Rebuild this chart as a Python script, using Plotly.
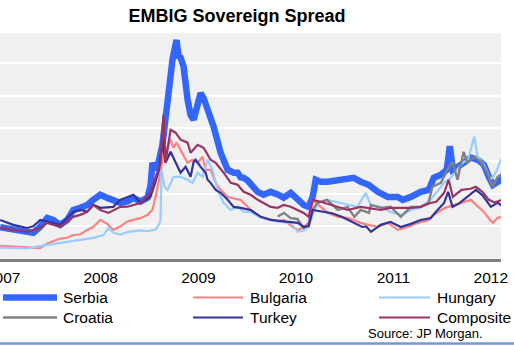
import pandas as pd
import plotly.graph_objects as go

# EMBIG sovereign spreads (bp); time given as decimal years
serbia_t = [2006.969, 2007.103, 2007.246, 2007.308, 2007.380, 2007.452, 2007.513, 2007.585, 2007.657, 2007.719,
            2007.791, 2007.862, 2007.924, 2007.996, 2008.068, 2008.129, 2008.201, 2008.273, 2008.335, 2008.407,
            2008.478, 2008.509, 2008.530, 2008.561, 2008.591, 2008.632, 2008.663, 2008.684, 2008.715, 2008.735,
            2008.776, 2008.797, 2008.817, 2008.848, 2008.889, 2008.920, 2008.951, 2008.992, 2009.023, 2009.053,
            2009.094, 2009.156, 2009.228, 2009.300, 2009.361, 2009.402, 2009.433, 2009.464, 2009.505, 2009.536,
            2009.608, 2009.669, 2009.741, 2009.813, 2009.875, 2009.947, 2010.018, 2010.080, 2010.131, 2010.172,
            2010.203, 2010.255, 2010.326, 2010.429, 2010.532, 2010.593, 2010.665, 2010.747, 2010.840, 2010.943,
            2011.045, 2011.097, 2011.179, 2011.281, 2011.363, 2011.415, 2011.487, 2011.548, 2011.579, 2011.610,
            2011.661, 2011.723, 2011.795, 2011.867, 2011.928, 2011.979, 2012.021, 2012.072, 2012.113]
serbia_v = [194, 178, 160, 160, 198, 251, 239, 209, 239, 300,
            313, 331, 362, 393, 374, 362, 343, 352, 374, 352,
            374, 444, 589, 546, 589, 700, 870, 976, 1100, 1221,
            1340, 1240, 1233, 1178, 976, 880, 853, 950, 1015, 985,
            914, 810, 650, 546, 528, 528, 500, 497, 480, 460,
            411, 393, 411, 395, 375, 405, 362, 331, 319, 380,
            485, 473, 473, 485, 497, 497, 473, 454, 411, 380,
            380, 362, 380, 411, 423, 497, 515, 546, 690, 546,
            564, 589, 620, 607, 577, 503, 454, 473, 497]

bulgaria_t = [2006.969, 2007.103, 2007.246, 2007.380, 2007.452, 2007.585, 2007.657, 2007.719, 2007.791, 2007.862,
              2007.924, 2007.996, 2008.068, 2008.129, 2008.201, 2008.273, 2008.335, 2008.407, 2008.478, 2008.530,
              2008.561, 2008.612, 2008.643, 2008.684, 2008.715, 2008.745, 2008.776, 2008.817, 2008.848, 2008.889,
              2008.940, 2008.992, 2009.043, 2009.074, 2009.125, 2009.177, 2009.228, 2009.300, 2009.361, 2009.433,
              2009.505, 2009.536, 2009.639, 2009.741, 2009.813, 2009.875, 2009.947, 2010.018, 2010.080, 2010.131,
              2010.172, 2010.255, 2010.326, 2010.429, 2010.532, 2010.665, 2010.747, 2010.840, 2010.943, 2011.045,
              2011.150, 2011.250, 2011.363, 2011.415, 2011.530, 2011.620, 2011.720, 2011.795, 2011.850, 2011.928,
              2011.990, 2012.021, 2012.070, 2012.113]
bulgaria_v = [80, 75, 70, 67, 95, 125, 130, 147, 150, 178,
              196, 239, 215, 178, 200, 230, 239, 250, 270, 300,
              380, 528, 650, 687, 730, 681, 712, 669, 640, 589,
              607, 589, 626, 546, 546, 466, 423, 380, 370, 362,
              320, 300, 258, 239, 230, 239, 205, 178, 196, 221,
              362, 319, 282, 258, 252, 221, 209, 196, 221, 178,
              196, 221, 239, 270, 313, 331, 350, 362, 331, 288,
              240, 221, 252, 258]

hungary_t = [2006.969, 2007.103, 2007.246, 2007.452, 2007.657, 2007.791, 2007.924, 2008.030, 2008.080, 2008.129,
             2008.201, 2008.273, 2008.335, 2008.407, 2008.478, 2008.561, 2008.600, 2008.612, 2008.622, 2008.653,
             2008.684, 2008.745, 2008.817, 2008.889, 2008.940, 2008.992, 2009.043, 2009.094, 2009.145, 2009.197,
             2009.259, 2009.331, 2009.402, 2009.464, 2009.536, 2009.639, 2009.741, 2009.813, 2009.947, 2010.018,
             2010.080, 2010.131, 2010.220, 2010.320, 2010.460, 2010.630, 2010.717, 2010.768, 2010.870, 2010.970,
             2011.080, 2011.180, 2011.280, 2011.380, 2011.440, 2011.520, 2011.590, 2011.660, 2011.720, 2011.762,
             2011.830, 2011.864, 2011.930, 2012.000, 2012.050, 2012.113]
hungary_v = [70, 68, 65, 86, 104, 117, 129, 147, 190, 160,
             150, 165, 170, 175, 170, 180, 215, 239, 546, 442,
             423, 503, 503, 485, 466, 528, 503, 607, 546, 423,
             343, 300, 319, 290, 288, 252, 239, 230, 221, 166,
             175, 200, 343, 362, 343, 319, 405, 330, 319, 288,
             270, 300, 313, 362, 405, 466, 497, 546, 595, 600,
             749, 626, 577, 485, 528, 620]

croatia_t = [2009.813, 2009.878, 2009.947, 2010.015, 2010.080, 2010.131, 2010.170, 2010.220, 2010.320, 2010.430,
             2010.530, 2010.600, 2010.665, 2010.750, 2010.770, 2010.870, 2010.970, 2011.076, 2011.180, 2011.280,
             2011.360, 2011.400, 2011.487, 2011.555, 2011.607, 2011.658, 2011.720, 2011.760, 2011.830, 2011.900,
             2011.966, 2012.017, 2012.070, 2012.113]
croatia_v = [260, 282, 250, 245, 190, 215, 300, 343, 362, 300,
             319, 258, 300, 282, 331, 313, 320, 258, 319, 319,
             343, 442, 466, 546, 595, 485, 656, 589, 626, 595,
             528, 442, 503, 520]

turkey_t = [2006.969, 2007.103, 2007.246, 2007.308, 2007.380, 2007.452, 2007.585, 2007.719, 2007.791, 2007.862,
            2007.924, 2007.996, 2008.129, 2008.201, 2008.335, 2008.407, 2008.509, 2008.557, 2008.597, 2008.632,
            2008.663, 2008.715, 2008.766, 2008.817, 2008.869, 2008.920, 2008.951, 2008.971, 2009.023, 2009.074,
            2009.094, 2009.125, 2009.177, 2009.228, 2009.300, 2009.361, 2009.433, 2009.536, 2009.639, 2009.741,
            2009.875, 2010.018, 2010.080, 2010.131, 2010.172, 2010.280, 2010.370, 2010.470, 2010.570, 2010.680,
            2010.720, 2010.770, 2010.870, 2010.970, 2011.076, 2011.180, 2011.280, 2011.380, 2011.435, 2011.520,
            2011.562, 2011.607, 2011.675, 2011.760, 2011.846, 2011.915, 2012.000, 2012.070, 2012.113]
turkey_v = [239, 209, 190, 200, 239, 230, 209, 288, 300, 290,
            331, 313, 319, 362, 393, 343, 380, 466, 546, 730,
            589, 656, 589, 528, 564, 503, 595, 607, 564, 528,
            485, 466, 423, 405, 362, 319, 313, 300, 258, 239,
            230, 221, 196, 200, 300, 290, 280, 258, 230, 196,
            200, 166, 209, 227, 196, 215, 239, 250, 288, 343,
            411, 319, 340, 380, 423, 390, 319, 345, 325]

composite_t = [2006.969, 2007.103, 2007.246, 2007.380, 2007.452, 2007.585, 2007.719, 2007.791, 2007.862, 2007.924,
               2007.996, 2008.080, 2008.201, 2008.273, 2008.407, 2008.509, 2008.560, 2008.612, 2008.643, 2008.663,
               2008.715, 2008.766, 2008.817, 2008.889, 2008.920, 2008.951, 2008.992, 2009.053, 2009.094, 2009.125,
               2009.177, 2009.259, 2009.331, 2009.402, 2009.464, 2009.536, 2009.608, 2009.669, 2009.741, 2009.813,
               2009.875, 2009.947, 2010.018, 2010.080, 2010.131, 2010.172, 2010.255, 2010.429, 2010.532, 2010.665,
               2010.747, 2010.870, 2010.970, 2011.080, 2011.180, 2011.280, 2011.380, 2011.440, 2011.520, 2011.567,
               2011.610, 2011.700, 2011.790, 2011.846, 2011.915, 2011.980, 2012.040, 2012.113]
composite_v = [190, 178, 166, 190, 221, 196, 258, 270, 288, 331,
               300, 282, 319, 320, 343, 405, 500, 589, 884, 589,
               791, 773, 730, 712, 650, 669, 699, 681, 640, 607,
               589, 528, 466, 454, 411, 393, 362, 343, 319, 313,
               331, 320, 300, 282, 258, 362, 350, 319, 300, 319,
               310, 300, 313, 313, 313, 319, 343, 350, 405, 485,
               380, 423, 430, 442, 410, 362, 345, 362]

year_ticks = [2007, 2008, 2009, 2010, 2011, 2012]

series = [
    ("Serbia", serbia_t, serbia_v, "#3366ff", 6.5),
    ("Bulgaria", bulgaria_t, bulgaria_v, "#ff8080", 2.2),
    ("Hungary", hungary_t, hungary_v, "#99ccff", 2.2),
    ("Croatia", croatia_t, croatia_v, "#808080", 2.4),
    ("Turkey", turkey_t, turkey_v, "#333399", 2.2),
    ("Composite", composite_t, composite_v, "#993366", 2.2),
]


def to_dates(years):
    out = []
    for y in years:
        base = int(y)
        start = pd.Timestamp(year=base, month=1, day=1)
        length = (pd.Timestamp(year=base + 1, month=1, day=1) - start).days
        out.append(start + pd.Timedelta(days=(y - base) * length))
    return out


W, H = 514, 346
ML, MR, MT, MB = 0, 13, 33, 87
PW, PH = W - ML - MR, H - MT - MB


def px(x):
    return (x - ML) / PW


def py(y):
    return (H - MB - y) / PH


FONT = "Arial, Liberation Sans, sans-serif"

fig = go.Figure()
for name, t, v, color, width in series:
    fig.add_trace(go.Scatter(
        x=to_dates(t), y=v, mode="lines", name=name,
        line=dict(color=color, width=width), showlegend=False,
    ))

# Legend drawn as line samples plus labels, three columns by two rows
legend_cols = [(3, 57, 61), (193, 243, 248), (379, 430, 435)]
legend_rows = [297.5, 317.5]
legend_layout = {
    "Serbia": (0, 0), "Bulgaria": (0, 1), "Hungary": (0, 2),
    "Croatia": (1, 0), "Turkey": (1, 1), "Composite": (1, 2),
}
shapes = []
annotations = []
for name, t, v, color, width in series:
    r, c = legend_layout[name]
    x0, x1, xt = legend_cols[c]
    yy = legend_rows[r]
    shapes.append(dict(type="line", xref="paper", yref="paper",
                       x0=px(x0), x1=px(x1), y0=py(yy), y1=py(yy),
                       line=dict(color=color, width=width)))
    annotations.append(dict(text=name, xref="paper", yref="paper",
                            x=px(xt), y=py(yy), xanchor="left", yanchor="middle",
                            showarrow=False, font=dict(family=FONT, size=15.5, color="#000000")))

annotations.append(dict(text="Source: JP Morgan.", xref="paper", yref="paper",
                        x=px(485), y=py(333), xanchor="right", yanchor="middle",
                        showarrow=False, font=dict(family=FONT, size=13, color="#000000")))

# Blue rule along the bottom of the panel
shapes.append(dict(type="line", xref="paper", yref="paper",
                   x0=px(0), x1=px(W), y0=py(343.5), y1=py(343.5),
                   line=dict(color="#6f9bd3", width=2.5)))

fig.update_layout(
    width=W, height=H,
    margin=dict(l=ML, r=MR, t=MT, b=MB, autoexpand=False),
    paper_bgcolor="#ffffff",
    plot_bgcolor="#f0f0f0",
    title=dict(text="<b>EMBIG Sovereign Spread</b>", x=237 / W, xref="container",
               y=1 - 16 / H, yref="container", xanchor="center", yanchor="middle",
               font=dict(family=FONT, size=18, color="#000000")),
    xaxis=dict(
        type="date",
        range=["2006-12-20", "2012-02-08"],
        tickvals=[pd.Timestamp(year=y, month=1, day=1) for y in year_ticks],
        ticktext=[str(y) for y in year_ticks],
        showgrid=False, zeroline=False,
        showline=True, linecolor="#808080", linewidth=3,
        ticks="outside", ticklen=2, tickcolor="rgba(0,0,0,0)",
        ticklabeloverflow="allow",
        tickfont=dict(family=FONT, size=15.5, color="#000000"),
        automargin=False,
    ),
    yaxis=dict(
        range=[0, 1383], dtick=200, tick0=0,
        showticklabels=False, showgrid=True, gridcolor="#ffffff", gridwidth=2,
        zeroline=False, showline=False, automargin=False,
    ),
    shapes=shapes,
    annotations=annotations,
)

fig.write_html("out.html")
